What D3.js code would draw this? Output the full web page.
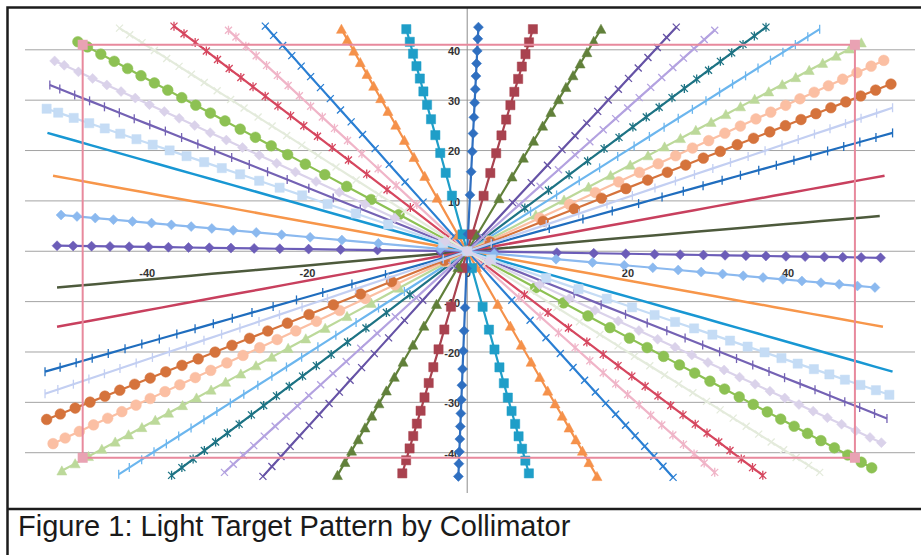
<!DOCTYPE html>
<html><head><meta charset="utf-8">
<script src="https://cdn.jsdelivr.net/npm/d3@7"></script>
<style>html,body{margin:0;padding:0;background:#fff;}svg{display:block;}</style>
</head><body>
<svg id="c" width="921" height="555"></svg>
<script>
// ---------------- data ----------------
const yTickValues = [-40, -30, -20, -10, 0, 10, 20, 30, 40];
const xTickValues = [-40, -20, 0, 20, 40];
const captionText = "Figure 1: Light Target Pattern by Collimator";

// radial distances (data units) at which the points of each ray sit
const markerRadii = [0, 3.4, 11.2, 15.8, 19.8, 23.4, 26.6, 29.5, 32.2, 34.8, 37.3, 39.8, 42.2, 44.6, 46.9, 49.2, 51.4, 53.6, 55.8, 58.0, 60.2, 62.4, 64.6, 66.8];

// target frame (corner points)
const frameX = [-48, 48.4, 48.4, -48, -48];
const frameY = [41, 41, -41, -41, 41];

// ray end points: one end (A) and the opposite end (B)
const rayEndA = [
  [-48.6, 41.6], [-43.4, 44.3], [-36.6, 44.7], [-29.8, 43.9], [-25.2, 44.7],
  [-15.7, 44.1], [-7.6, 44.1], [1.4, 44.5], [8.2, 44.1], [16.7, 44.1],
  [26.1, 44.5], [30.9, 43.9], [37.3, 44.5], [44.0, 44.1], [49.2, 41.4],
  [52.0, 37.9], [52.9, 33.2], [53.1, 28.5], [53.1, 23.5], [52.1, 15.0],
  [51.5, 7.0], [51.6, -1.3], [50.9, -7.2], [51.9, -15.0], [53.1, -23.9],
  [52.7, -28.5], [52.4, -33.2], [51.7, -38.0]
];
const rayEndB = [
  [50.5, -43.0], [44.0, -43.9], [36.9, -44.5], [30.9, -43.9], [25.7, -44.9],
  [16.2, -44.7], [7.7, -44.1], [-1.1, -44.7], [-8.1, -44.1], [-16.2, -44.5],
  [-25.5, -44.7], [-30.3, -43.9], [-36.9, -44.5], [-43.5, -44.3], [-50.6, -43.6],
  [-51.7, -38.2], [-52.5, -33.4], [-52.7, -28.3], [-52.7, -23.9], [-51.2, -15.0],
  [-51.2, -7.2], [-51.2, 1.1], [-50.7, 7.2], [-51.7, 15.0], [-52.4, 23.5],
  [-52.5, 28.3], [-52.1, 33.0], [-51.5, 37.8]
];

// ---------------- styles ----------------
const rayColors = [
  "#8dc153", "#e4ebdc", "#d6475f", "#f0b5c8", "#2b7fd3",
  "#f5914a", "#1f9ec8", "#2f6fc0", "#a9424f", "#61803a",
  "#6653a6", "#b3a2e0", "#1d7384", "#6cb6ee", "#bcd99a",
  "#fbbfa3", "#d5733c", "#c3cff2", "#1f6dbe", "#c8405e",
  "#4d5a3c", "#6c5db8", "#8bb9ef", "#f7964a", "#1897d3",
  "#c5dcf5", "#7462b4", "#dad2ea"
];
const rayMarkers = [
  "circle", "x", "star", "star", "x",
  "triangle", "square", "diamond", "square", "triangle",
  "x", "x", "star", "tick", "triangle",
  "circle", "circle", "tick", "tick", "none",
  "none", "diamond", "diamond", "none", "none",
  "square", "tick", "diamond"
];
const drawOrder = [20, 23, 24, 19, 0, 2, 3, 4, 5, 6, 7, 8, 9, 10, 12, 13, 14, 15, 16, 18, 21, 26, 1, 11, 17, 22, 25, 27];

// ---------------- drawing ----------------
const svg = d3.select("#c");
const x = d3.scaleLinear().domain([-55.2, 55.9]).range([25, 915]);
const y = d3.scaleLinear().domain([-48, 48.5]).range([493, 7]);

svg.append("rect").attr("width", 921).attr("height", 555).attr("fill", "#fff");

// gridlines
svg.append("g").selectAll("line").data(yTickValues).join("line")
  .attr("x1", x(-55.2)).attr("x2", x(55.9))
  .attr("y1", d => y(d)).attr("y2", d => y(d))
  .attr("stroke", "#a3a3a3").attr("stroke-width", 1);

// vertical axis line
svg.append("line")
  .attr("x1", x(0)).attr("x2", x(0)).attr("y1", y(48.5)).attr("y2", y(-48))
  .attr("stroke", "#8c8c8c").attr("stroke-width", 1);

// axis labels (plain hyphen minus, as in the original)
const fmt = d => String(d);
const yAxis = d3.axisLeft(y).tickValues(yTickValues).tickSize(0).tickPadding(7).tickFormat(fmt);
const gy = svg.append("g").attr("transform", `translate(${x(0)},0)`).call(yAxis);
gy.select(".domain").remove();
gy.selectAll("text").attr("font-family", "Liberation Sans, Arial, sans-serif")
  .attr("font-size", 11).attr("font-weight", "bold").attr("fill", "#333").attr("dy", "0.4em");

const xAxis = d3.axisBottom(x).tickValues(xTickValues).tickSize(0).tickPadding(18).tickFormat(fmt);
const gx = svg.append("g").attr("transform", `translate(0,${y(0)})`).call(xAxis);
gx.select(".domain").remove();
gx.selectAll("text").attr("font-family", "Liberation Sans, Arial, sans-serif")
  .attr("font-size", 11).attr("font-weight", "bold").attr("fill", "#333");

// marker shapes
function markerPath(type) {
  switch (type) {
    case "circle": return d3.symbol(d3.symbolCircle, 90)();
    case "square": return "M-4.6,-4.6H4.6V4.6H-4.6Z";
    case "diamond": return "M0,-5L5,0L0,5L-5,0Z";
    case "triangle": return "M0,-5L5,4.2L-5,4.2Z";
    case "x": return "M-3.5,-3.5L3.5,3.5M-3.5,3.5L3.5,-3.5";
    case "star": return "M-3.5,-3.5L3.5,3.5M-3.5,3.5L3.5,-3.5M0,-4.5L0,4.5";
    case "tick": return "M0,-4.5L0,4.5";
    default: return null;
  }
}

function halfRay(end) {
  const R = Math.hypot(end[0], end[1]);
  const pts = markerRadii.filter(r => r > 0 && r < R - 1.2)
    .map(r => [end[0] * r / R, end[1] * r / R]);
  pts.push(end);
  return pts;
}

const line = d3.line().x(d => x(d[0])).y(d => y(d[1]));
const rays = svg.append("g");

drawOrder.forEach(i => {
  const pts = [...halfRay(rayEndA[i]).reverse(), [0, 0], ...halfRay(rayEndB[i])];
  const col = rayColors[i];
  const g = rays.append("g");
  const plain = rayMarkers[i] === "none";
  g.append("path").attr("d", line(pts)).attr("fill", "none")
    .attr("stroke", col).attr("stroke-width", plain ? 2.5 : 2.2).attr("stroke-linejoin", "round");
  const mp = markerPath(rayMarkers[i]);
  if (mp) {
    const filled = ["circle", "square", "diamond", "triangle"].includes(rayMarkers[i]);
    g.selectAll("path.m").data(pts).join("path").attr("class", "m")
      .attr("transform", d => `translate(${x(d[0])},${y(d[1])})`)
      .attr("d", mp)
      .attr("fill", filled ? col : "none")
      .attr("stroke", col).attr("stroke-width", filled ? 0.5 : 1.3);
  }
});

// target frame
const framePts = frameX.map((v, k) => [v, frameY[k]]);
svg.append("path").attr("d", line(framePts)).attr("fill", "none")
  .attr("stroke", "#e8899d").attr("stroke-width", 2);
svg.append("g").selectAll("path").data(framePts.slice(0, 4)).join("path")
  .attr("transform", d => `translate(${x(d[0])},${y(d[1])})`)
  .attr("d", "M-5,-5H5V5H-5Z").attr("fill", "#e9a2b3");

// borders
svg.append("path").attr("d", "M7.5,555V7.5H921M7.5,509H921")
  .attr("fill", "none").attr("stroke", "#1c1c1c").attr("stroke-width", 2.5);

// caption
svg.append("text").attr("x", 18).attr("y", 536)
  .attr("font-family", "Liberation Sans, Arial, sans-serif").attr("font-size", 29)
  .attr("fill", "#1a1a1a").text(captionText);
</script>
</body></html>
